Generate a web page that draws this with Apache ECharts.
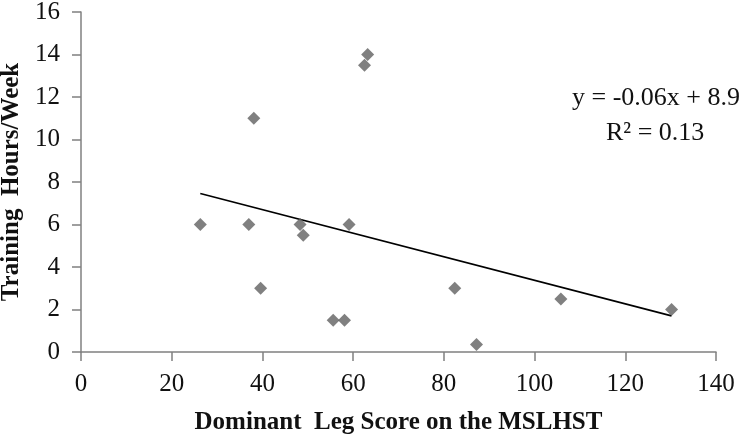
<!DOCTYPE html>
<html>
<head>
<meta charset="utf-8">
<script src="https://cdn.jsdelivr.net/npm/echarts@6/dist/echarts.min.js"></script>
<style>
html, body { margin: 0; padding: 0; background: #fff; }
#chart1 { width: 744px; height: 436px; }
</style>
</head>
<body>
<div id="chart1"></div>
<script>
// 数据
var legScore = [26.3, 37, 48.3, 49, 39.6, 55.6, 58.1, 59.1, 38.1, 62.5, 63.2, 82.4, 87.2, 105.8, 130.2];
var hoursWeek = [6, 6, 6, 5.5, 3, 1.5, 1.5, 6, 11, 13.5, 14, 3, 0.35, 2.5, 2];
var trendX = [26.3, 130.2];
var trendY = [7.46, 1.7];
var eqText = 'y = -0.06x + 8.9';
var r2Text = 'R² = 0.13';

var serif = '"Liberation Serif", "Times New Roman", serif';

var points = legScore.map(function (x, i) {
    return [x, hoursWeek[i]];
});
var trend = trendX.map(function (x, i) {
    return [x, trendY[i]];
});

var myChart = echarts.init(document.getElementById('chart1'));

var option = {
    animation: false,
    backgroundColor: '#fff',
    grid: {
        left: 81,
        right: 28,
        top: 12,
        bottom: 84,
        outerBoundsMode: 'none'
    },
    xAxis: {
        type: 'value',
        min: 0,
        max: 140,
        interval: 20,
        name: 'Dominant  Leg Score on the MSLHST',
        nameLocation: 'middle',
        nameGap: 58,
        nameTextStyle: {
            fontFamily: serif,
            fontWeight: 'bold',
            fontSize: 25,
            color: '#111'
        },
        axisLine: { lineStyle: { color: '#808080', width: 1.5 } },
        axisTick: { show: true, length: 9, lineStyle: { color: '#808080', width: 1.5 } },
        axisLabel: { fontFamily: serif, fontSize: 25, color: '#111', margin: 20 },
        splitLine: { show: false }
    },
    yAxis: {
        type: 'value',
        min: 0,
        max: 16,
        interval: 2,
        name: 'Training  Hours/Week',
        nameLocation: 'middle',
        nameGap: 50,
        nameTextStyle: {
            fontFamily: serif,
            fontWeight: 'bold',
            fontSize: 25,
            color: '#111'
        },
        axisLine: { show: true, lineStyle: { color: '#808080', width: 1.5 } },
        axisTick: { show: true, length: 9, lineStyle: { color: '#808080', width: 1.5 } },
        axisLabel: { fontFamily: serif, fontSize: 25, color: '#111', margin: 21 },
        splitLine: { show: false }
    },
    series: [{
        name: 'scores',
        type: 'scatter',
        symbol: 'diamond',
        symbolSize: 13,
        itemStyle: { color: '#606060' },
        data: points,
        z: 3
    }, {
        name: 'trend',
        type: 'line',
        symbol: 'none',
        lineStyle: { color: '#000', width: 1.6 },
        data: trend,
        z: 2
    }],
    graphic: [{
        type: 'text',
        left: 572,
        top: 85,
        style: {
            text: eqText,
            fontFamily: serif,
            fontSize: 26,
            fill: '#111'
        }
    }, {
        type: 'text',
        left: 606,
        top: 120,
        style: {
            text: r2Text,
            fontFamily: serif,
            fontSize: 26,
            fill: '#111'
        }
    }]
};

myChart.setOption(option);
</script>
</body>
</html>
